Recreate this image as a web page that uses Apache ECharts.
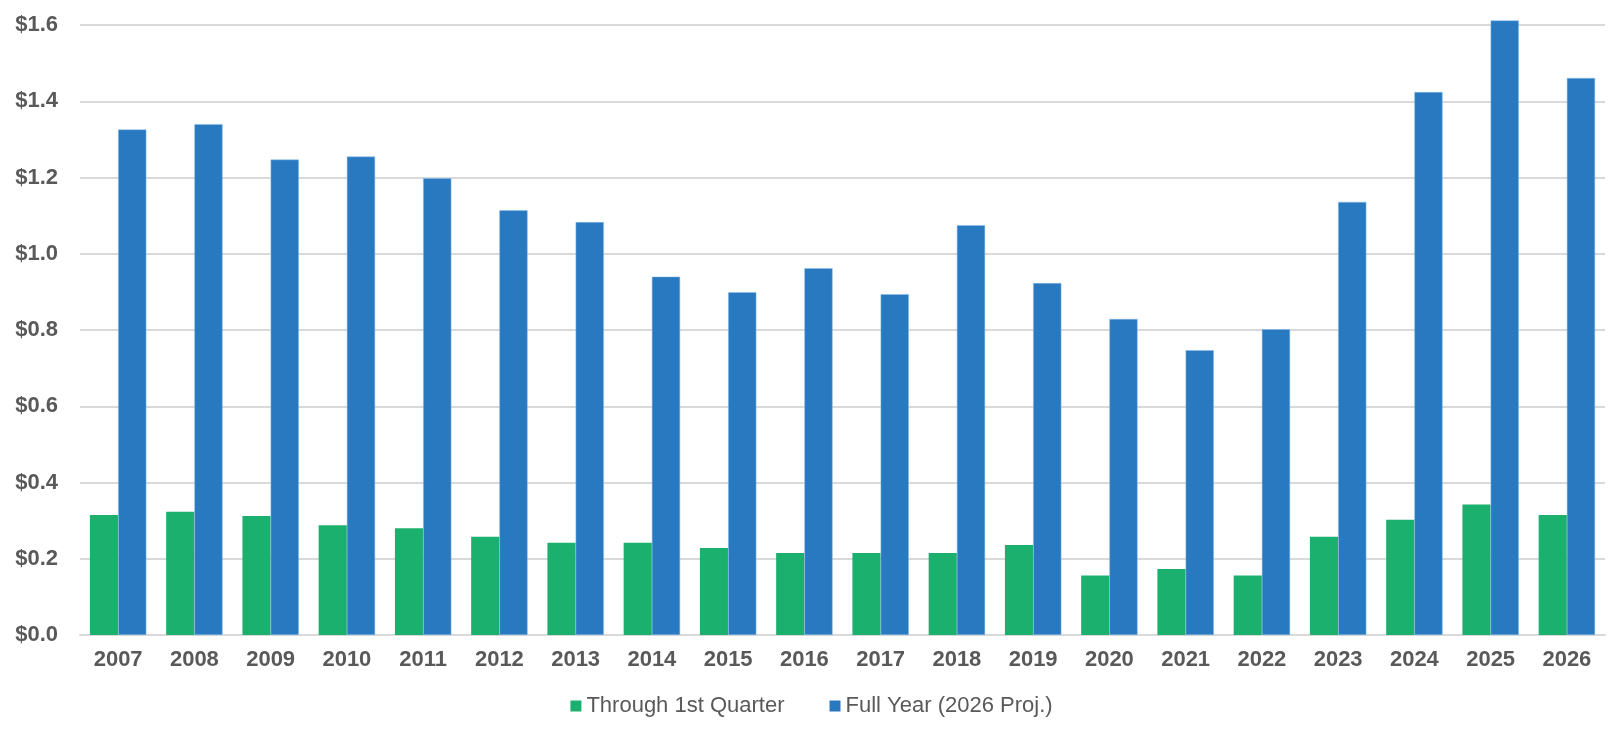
<!DOCTYPE html>
<html>
<head>
<meta charset="utf-8">
<title>Through 1st Quarter vs Full Year</title>
<script src="https://cdn.jsdelivr.net/npm/echarts@6/dist/echarts.min.js"></script>
<style>
  html, body { margin: 0; padding: 0; background: #fff; }
  #chart { width: 1623px; height: 730px; }
</style>
</head>
<body>
<div id="chart"></div>
<script>
// categories
const years = ['2007', '2008', '2009', '2010', '2011', '2012', '2013', '2014', '2015', '2016',
  '2017', '2018', '2019', '2020', '2021', '2022', '2023', '2024', '2025', '2026'];

// through 1st quarter
const firstQuarter = [0.315, 0.323, 0.312, 0.288, 0.280, 0.258, 0.242, 0.242, 0.228, 0.215,
  0.215, 0.215, 0.236, 0.156, 0.173, 0.156, 0.258, 0.302, 0.342, 0.315];

// full year (2026 projected)
const fullYear = [1.326, 1.340, 1.247, 1.255, 1.198, 1.114, 1.083, 0.940, 0.899, 0.962,
  0.894, 1.075, 0.923, 0.829, 0.747, 0.802, 1.136, 1.424, 1.612, 1.461];

const chart = echarts.init(document.getElementById('chart'));

const labelColor = '#595959';
const font = 'Liberation Sans, Arial, sans-serif';

chart.setOption({
  animation: false,
  grid: { left: 80, right: 18, top: 25, bottom: 95 },
  legend: {
    bottom: 8,
    left: 'center',
    icon: 'rect',
    itemWidth: 11,
    itemHeight: 11,
    itemGap: 45,
    itemStyle: { borderWidth: 0 },
    textStyle: { color: labelColor, fontSize: 22, fontFamily: font }
  },
  xAxis: {
    type: 'category',
    data: years,
    axisTick: { show: false },
    axisLine: { lineStyle: { color: '#d9d9d9', width: 2 } },
    axisLabel: { color: labelColor, fontSize: 22, fontWeight: 'bold', fontFamily: font, margin: 14 }
  },
  yAxis: {
    type: 'value',
    min: 0,
    max: 1.6,
    interval: 0.2,
    axisLine: { show: false },
    axisTick: { show: false },
    splitLine: { lineStyle: { color: '#d9d9d9', width: 2 } },
    axisLabel: {
      color: labelColor, fontSize: 22, fontWeight: 'bold', fontFamily: font, margin: 22,
      formatter: v => '$' + v.toFixed(1)
    }
  },
  series: [
    {
      name: 'Through 1st Quarter',
      type: 'bar',
      data: firstQuarter,
      barGap: '0%',
      barCategoryGap: '26%',
      clip: false,
      itemStyle: { color: '#1bb06e' }
    },
    {
      name: 'Full Year (2026 Proj.)',
      type: 'bar',
      data: fullYear,
      clip: false,
      itemStyle: { color: '#2879c0', borderColor: '#8fbfe8', borderWidth: 0.5 }
    }
  ]
});
</script>
</body>
</html>
